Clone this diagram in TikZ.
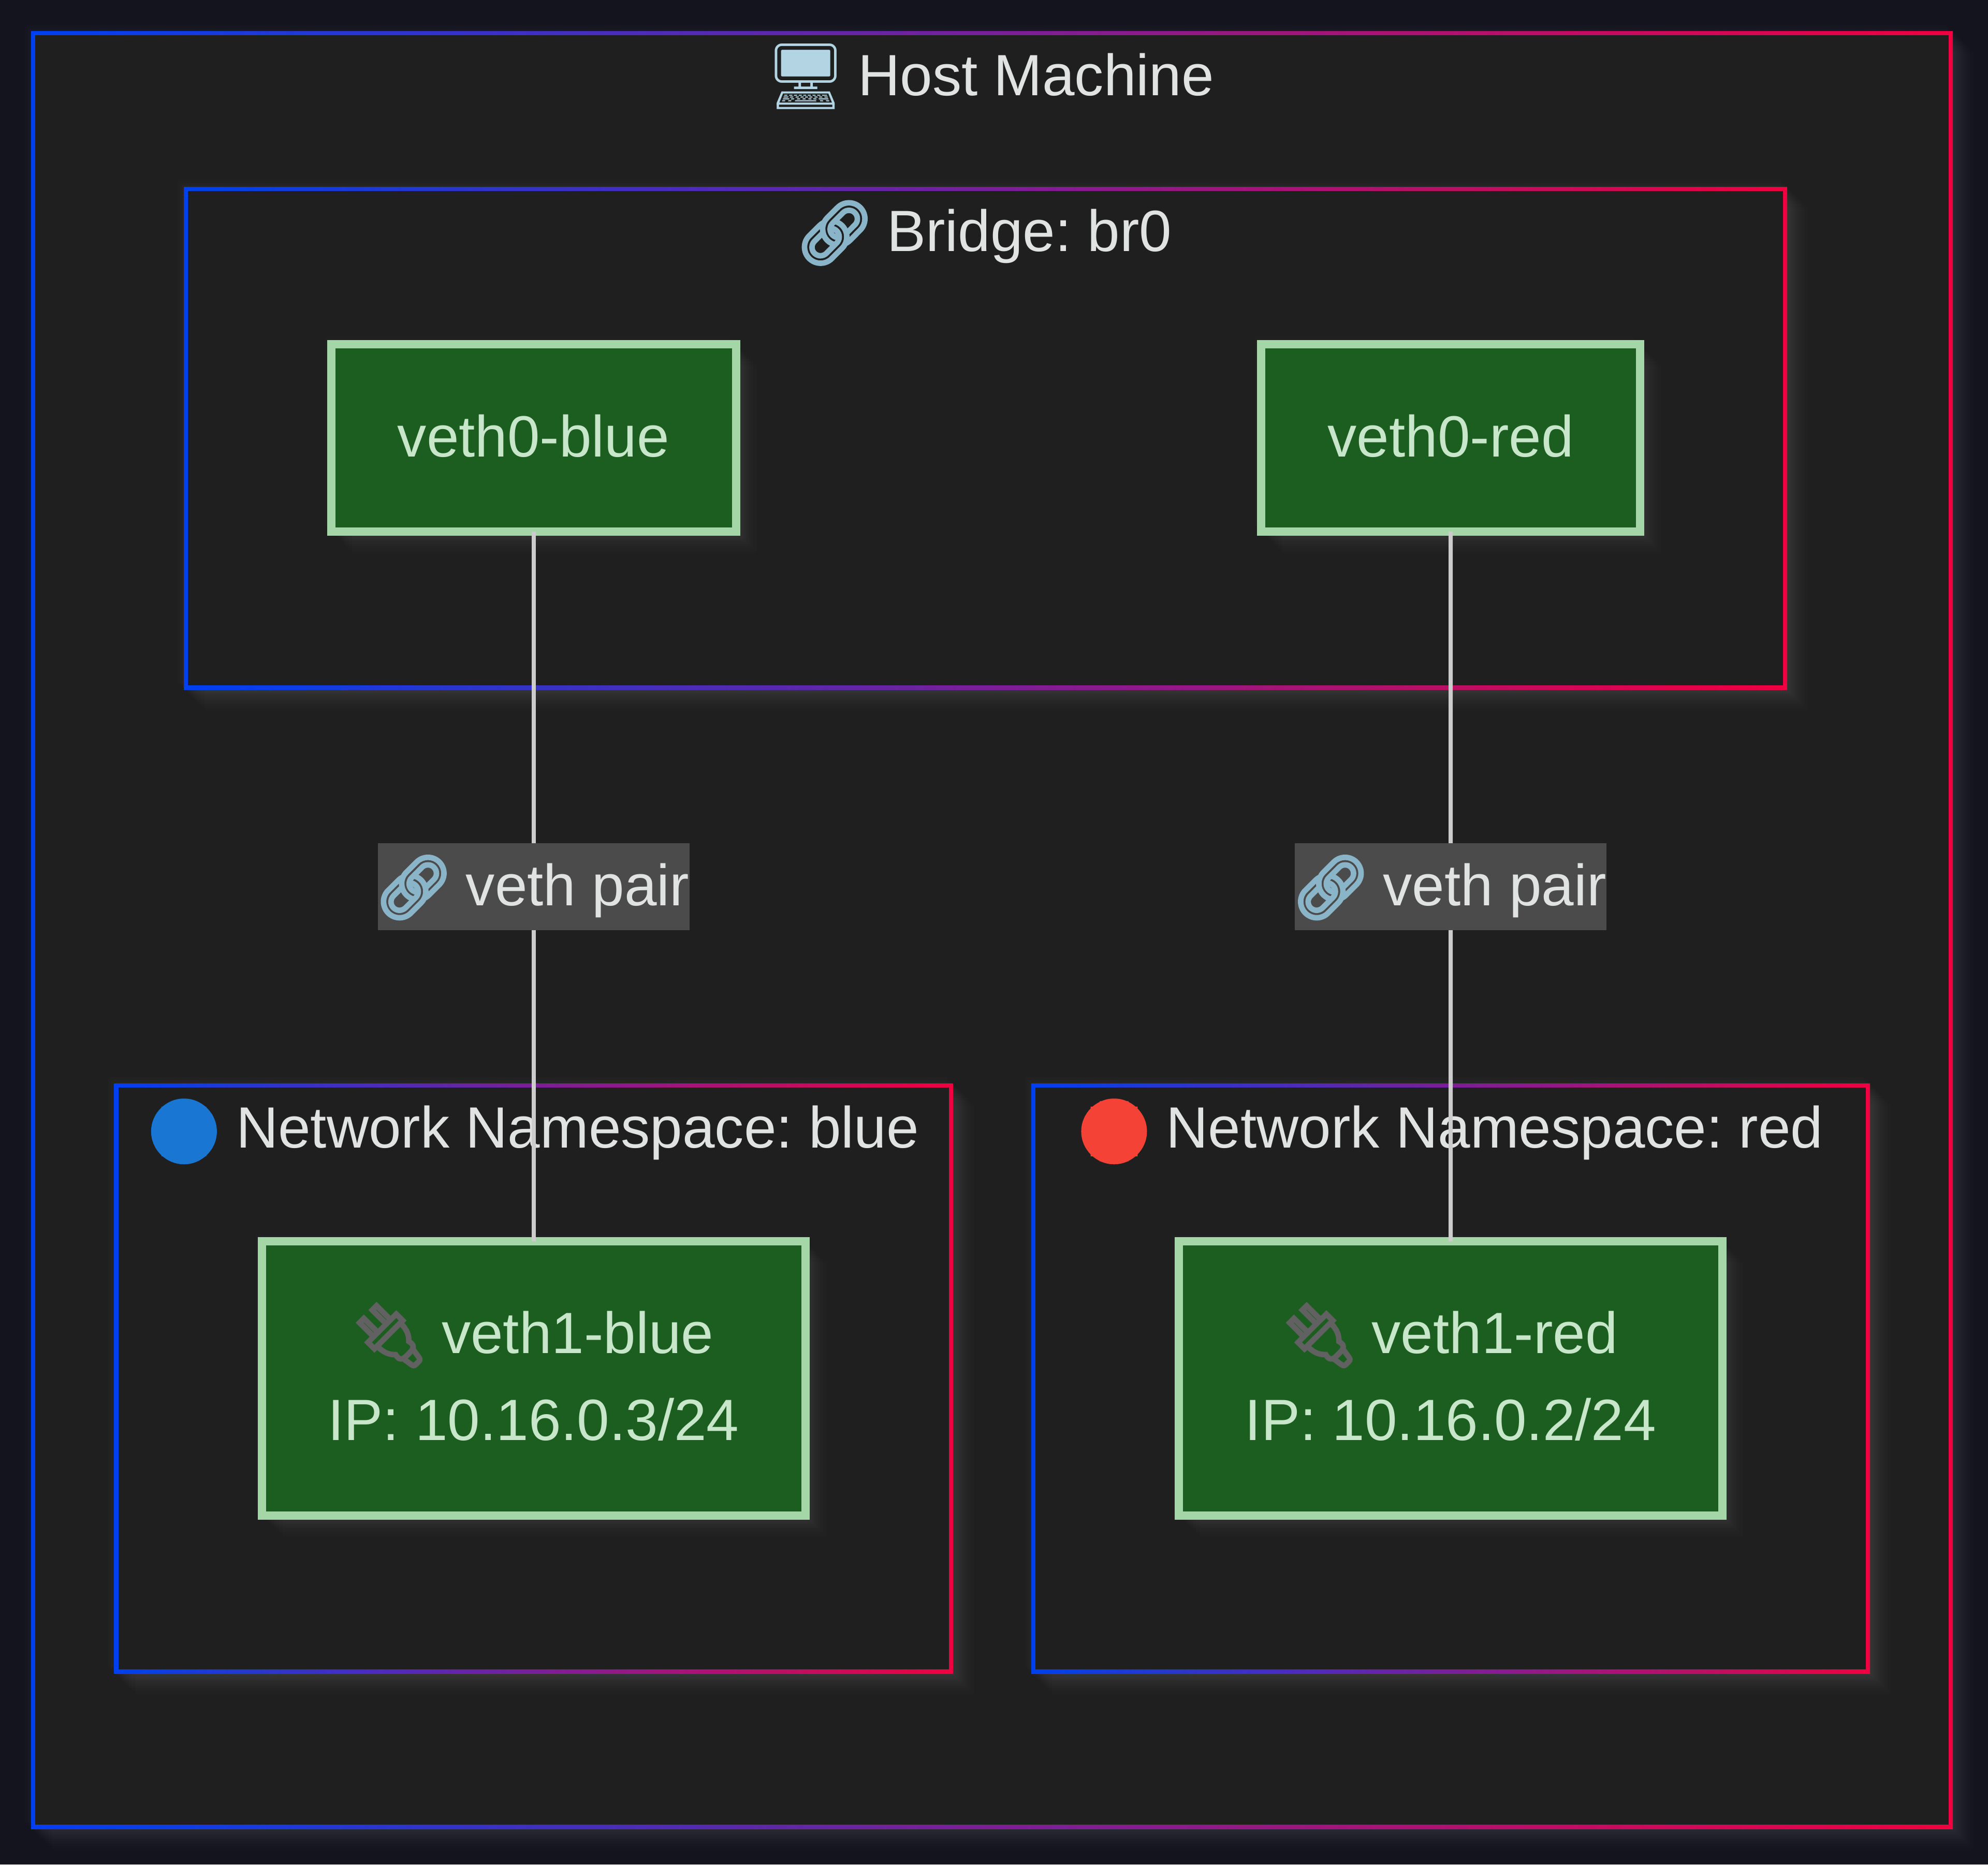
\documentclass[tikz,border=0pt]{standalone}
\usepackage{fontspec}
\usepackage{xcolor}
\setmainfont{Liberation Sans}
\newfontfamily\emojifont{Noto Emoji}
\newfontfamily\emojiheavy[FakeBold=5]{Noto Emoji}
\newfontfamily\emojisolid[FakeBold=15]{Noto Emoji}
\usetikzlibrary{positioning, shadows}

\definecolor{pagebg}{HTML}{14141F}
\definecolor{panelbg}{HTML}{1F1F1F}
\definecolor{frameblue}{HTML}{0040F0}
\definecolor{framered}{HTML}{F00040}
\definecolor{ifstroke}{HTML}{A5D6A7}
\definecolor{iffill}{HTML}{1B5E20}
\definecolor{iftext}{HTML}{C8E6C9}
\definecolor{titletext}{HTML}{E1E3E2}
\definecolor{pairfill}{HTML}{4A4B4A}
\definecolor{linkgray}{HTML}{CCCCCC}
\definecolor{screenblue}{HTML}{B3D4E3}
\definecolor{chainblue}{HTML}{8AB4C8}
\definecolor{dotblue}{HTML}{1976D2}
\definecolor{dotred}{HTML}{F44336}
\definecolor{plugdark}{HTML}{616161}

\newcommand{\emoji}[3]{\makebox[1.39cm]{\raisebox{-.06cm}{\textcolor{#1}{\fontsize{35.5pt}{47.8pt}#2#3}}}}
\newcommand{\iflines}[2]{\rule{0pt}{1cm}#1\\#2\rule[-.285cm]{0pt}{.285cm}}
\newcommand{\chainface}{\fontsize{34pt}{47.8pt}\emojiheavy}
\newcommand{\dotface}{\fontsize{31pt}{47.8pt}\emojisolid}

\begin{document}
\frenchspacing
\begin{tikzpicture}[
    softlayer/.style={general shadow={fill=white, opacity=.0105, shadow xshift=#1, shadow yshift=-#1}},
    softback/.style={general shadow={fill=white, opacity=.0105, shadow xshift=-#1, shadow yshift=#1}},
    softglow/.style={softback/.list={.03cm,.07cm,.12cm}, softlayer/.list={.02cm,.05cm,.08cm,.11cm,.14cm,.17cm,.20cm,.24cm,.28cm,.33cm,.40cm}},
    panelframe/.style={rectangle, softglow, left color=frameblue, right color=framered, inner sep=0pt, outer sep=0pt,
        path picture={\fill[panelbg] ([shift={(.08,.08)}]path picture bounding box.south west) rectangle ([shift={(-.08,-.08)}]path picture bounding box.north east);}},
    nsframe/.style={panelframe, minimum width=16.2cm, minimum height=11.4cm},
    ifbox/.style={rectangle, softglow, draw=ifstroke, fill=iffill, text=iftext, line width=.16cm, inner sep=0pt, outer sep=0pt, align=center,
        font=\fontsize{32pt}{47.8pt}\selectfont},
    ifzero/.style={ifbox, minimum height=3.62cm, text height=1cm, text depth=.28cm},
    ifone/.style={ifbox, minimum width=10.5cm, minimum height=5.3cm},
    frametitle/.style={anchor=base, inner sep=0pt, text=titletext, font=\fontsize{32pt}{47.8pt}\selectfont},
    link/.style={draw=linkgray, line width=.08cm},
    pairlabel/.style={rectangle, fill=pairfill, text=titletext, inner sep=0pt, minimum width=6.02cm, minimum height=1.68cm,
        text height=1cm, text depth=.26cm, font=\fontsize{32pt}{47.8pt}\selectfont}
]

\useasboundingbox (0,0) rectangle (38.4,-36.02);
\fill[pagebg] (0,0) rectangle (38.4,-36.02);

% subgraph frames
\node[panelframe, minimum width=37.12cm, minimum height=34.73cm] (host) at (19.16,-17.965) {};
\node[panelframe, minimum width=30.97cm, minimum height=9.71cm] (bridge) at (19.035,-8.465) {};
\node[nsframe] (nsblue) at (10.305,-26.63) {};
\node[nsframe, on grid, right=17.715cm of nsblue] (nsred) {};

\node[frametitle] (hosttitle) at (19.16,-1.84) {\emoji{screenblue}{\emojifont}{🖥} Host Machine};
\node[frametitle] (bridgetitle) at (19.03,-4.85) {\emoji{chainblue}{\chainface}{🔗} Bridge: br0};
\node[frametitle] (nsbluetitle) at (10.305,-22.17) {\emoji{dotblue}{\dotface}{🔵} Network Namespace: blue};
\node[frametitle] (nsredtitle) at (28.02,-22.17) {\emoji{dotred}{\dotface}{🔴} Network Namespace: red};

% interfaces
\node[ifzero, minimum width=7.82cm] (vethzeroblue) at (10.305,-8.46) {veth0-blue};
\node[ifzero, minimum width=7.315cm] (vethzerored) at (28.02,-8.46) {veth0-red};
\node[ifone] (vethoneblue) at (nsblue) {\iflines{\emoji{plugdark}{\chainface}{🔌} veth1-blue}{IP: 10.16.0.3/24}};
\node[ifone] (vethonered) at (nsred) {\iflines{\emoji{plugdark}{\chainface}{🔌} veth1-red}{IP: 10.16.0.2/24}};

\draw[link] (vethzeroblue) -- node[pairlabel] (pairblue) {\emoji{chainblue}{\chainface}{🔗} veth pair} (vethoneblue);
\draw[link] (vethzerored) -- node[pairlabel] (pairred) {\emoji{chainblue}{\chainface}{🔗} veth pair} (vethonered);

\end{tikzpicture}
\end{document}
